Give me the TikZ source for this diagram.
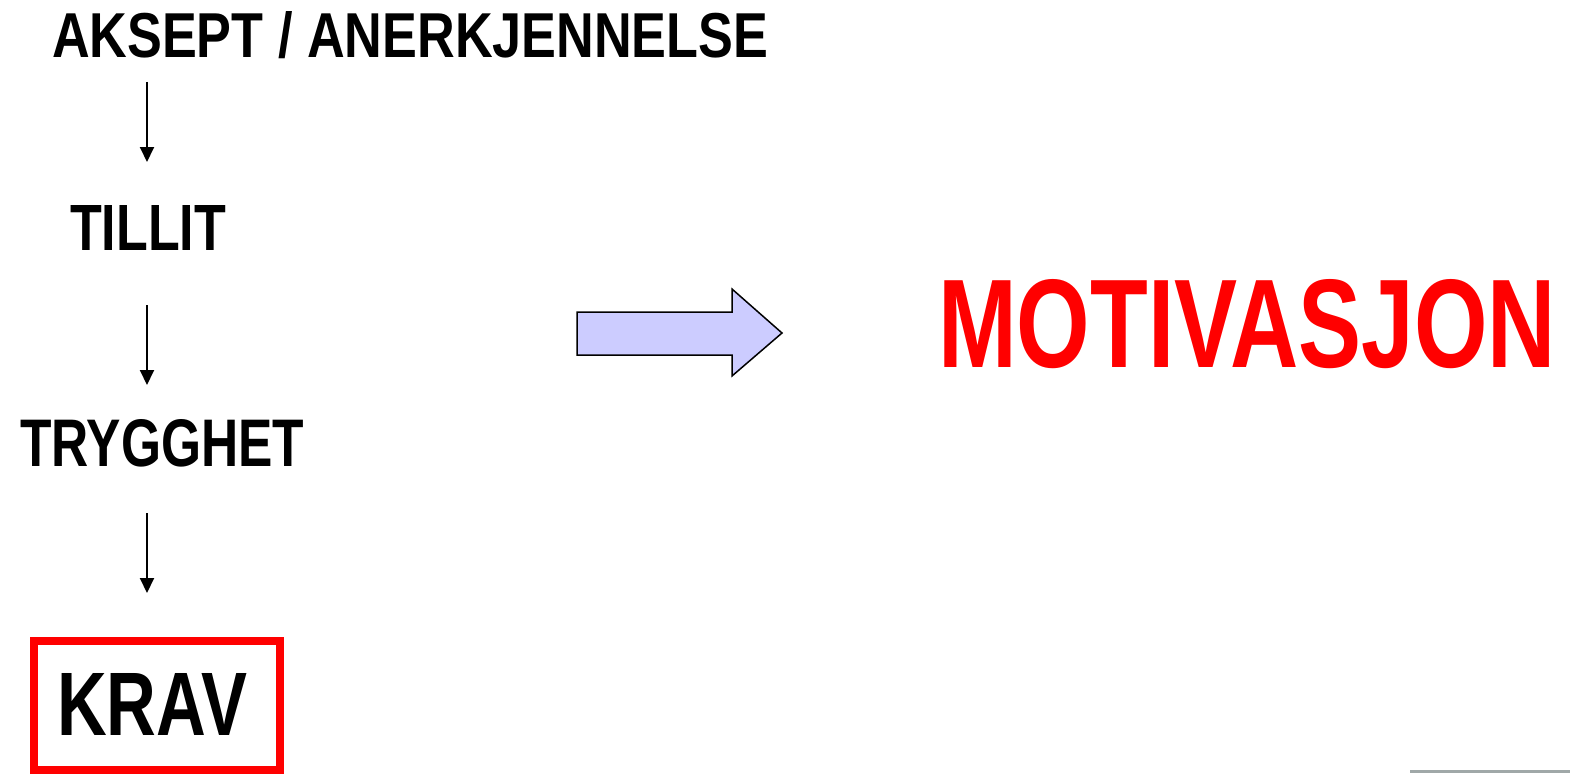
\documentclass[tikz,border=0pt]{standalone}
\usepackage{fontspec}
\setmainfont{Liberation Sans}[BoldFont={Liberation Sans Bold}]
\newfontfamily\heavy{Liberation Sans Bold}
\usepackage{graphicx}
\usetikzlibrary{arrows.meta}
\definecolor{arrowfill}{RGB}{204,204,255}
\definecolor{lightgrayline}{RGB}{160,168,168}
\tikzset{
  lbl/.style={anchor=base west, inner sep=0pt, outer sep=0pt, font=\heavy},
  flow/.style={line width=2pt, -{Triangle[width=14pt,length=15pt]}},
  kravbox/.style={draw=red, line width=8pt, minimum width=246pt, minimum height=129pt, inner sep=0pt},
  bigarrow/.style={draw=black, line width=1.5pt, fill=arrowfill, line join=miter}
}
\begin{document}
\begin{tikzpicture}[x=1pt,y=-1pt]
\useasboundingbox (0,0) rectangle (1570,773);
\node[lbl] (aksept) at (52,58) {\resizebox{716pt}{46pt}{AKSEPT / ANERKJENNELSE}};
\node[lbl] (tillit) at (70,250) {\resizebox{156pt}{45pt}{TILLIT}};
\node[lbl] (trygghet) at (20,466) {\resizebox{284pt}{47pt}{TRYGGHET}};
\node[kravbox] (box) at (157,705.5) {};
\node[lbl] (krav) at (57,735) {\resizebox{190pt}{62pt}{KRAV}};
\node[lbl, text=red] (motiv) at (938,367) {\resizebox{618pt}{88pt}{MOTIVASJON}};
\coordinate (a1s) at (147,82);  \coordinate (a1e) at (147,162);
\coordinate (a2s) at (147,305); \coordinate (a2e) at (147,385);
\coordinate (a3s) at (147,513); \coordinate (a3e) at (147,593);
\draw[flow] (a1s) -- (a1e);
\draw[flow] (a2s) -- (a2e);
\draw[flow] (a3s) -- (a3e);
\draw[bigarrow] (577,312) -- (732,312) -- (732,289) -- (782,333) -- (732,376) -- (732,355) -- (577,355) -- cycle;
\coordinate (gl1) at (1410,771); \coordinate (gl2) at (1570,771);
\draw[lightgrayline, line width=3pt] (gl1) -- (gl2);
\end{tikzpicture}
\end{document}
